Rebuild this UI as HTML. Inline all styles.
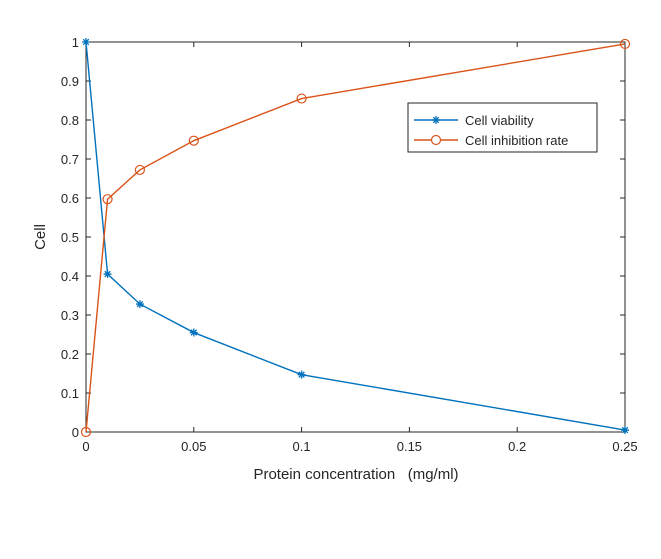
<!DOCTYPE html>
<html><head><meta charset="utf-8"><style>
body{margin:0;background:#fff}
svg text{font-family:"Liberation Sans",Arial,sans-serif;fill:#262626}
</style></head><body>
<svg width="661" height="554">
<g id="g"></g>
</svg>
<script>
const xValues=[0,0.01,0.025,0.05,0.1,0.25];
const viability=[1,0.405,0.328,0.255,0.147,0.005];
const inhibition=[0,0.597,0.672,0.747,0.855,0.995];
const xTicks=[0,0.05,0.1,0.15,0.2,0.25];
const xTickLabels=["0","0.05","0.1","0.15","0.2","0.25"];
const yTicks=[0,0.1,0.2,0.3,0.4,0.5,0.6,0.7,0.8,0.9,1];
const yTickLabels=["0","0.1","0.2","0.3","0.4","0.5","0.6","0.7","0.8","0.9","1"];
const L=86,R=625,T=42,B=432;
const X=v=>L+(v-0)/(0.25)*(R-L);
const Y=v=>B-v*(B-T);
const NS="http://www.w3.org/2000/svg";
const g=document.getElementById('g');
function mk(t,a,p){const e=document.createElementNS(NS,t);for(const k in a)e.setAttribute(k,a[k]);(p||g).appendChild(e);return e;}
const bg=mk('rect',{x:L,y:T,width:R-L,height:B-T,fill:'#fff',stroke:'#262626','stroke-width':1});


xTicks.forEach((v,i)=>{const x=X(v);
mk('line',{x1:x,y1:B,x2:x,y2:B-5,stroke:'#262626'});mk('line',{x1:x,y1:T,x2:x,y2:T+5,stroke:'#262626'});
const t=mk('text',{x:x,y:B+19,'text-anchor':'middle','font-size':13});t.textContent=xTickLabels[i];

});
yTicks.forEach((v,i)=>{const y=Y(v);
mk('line',{x1:L,y1:y,x2:L+5,y2:y,stroke:'#262626'});mk('line',{x1:R,y1:y,x2:R-5,y2:y,stroke:'#262626'});
const t=mk('text',{x:L-7,y:y+5,'text-anchor':'end','font-size':13});t.textContent=yTickLabels[i];

});
const xt=mk('text',{x:356,y:479,'text-anchor':'middle','font-size':15});xt.textContent='Protein concentration\u00a0\u00a0\u00a0(mg/ml)';


const yt=mk('text',{x:45,y:237,'text-anchor':'middle','font-size':15,transform:'rotate(-90 45 237)'});yt.textContent='Cell';


function star(x,y,c,p){const s=4;
mk('path',{d:`M${x-s} ${y}H${x+s}M${x} ${y-s}V${y+s}M${x-s*.7} ${y-s*.7}L${x+s*.7} ${y+s*.7}M${x-s*.7} ${y+s*.7}L${x+s*.7} ${y-s*.7}`,stroke:c,'stroke-width':1.3,fill:'none'},p);}
function series(vals,c,marker,name){
const grp=mk('g',{});


mk('polyline',{points:xValues.map((v,i)=>X(v)+','+Y(vals[i])).join(' '),fill:'none',stroke:c,'stroke-width':1.4},grp);
xValues.forEach((v,i)=>{if(marker==='star')star(X(v),Y(vals[i]),c,grp);else mk('circle',{cx:X(v),cy:Y(vals[i]),r:4.5,fill:'none',stroke:c,'stroke-width':1.2},grp);});}
series(viability,'#0072BD','star','cell-viability-series');
series(inhibition,'#D95319','circle','cell-inhibition-series');
const lg=mk('g',{});


mk('rect',{x:408,y:103,width:189,height:49,fill:'#fff',stroke:'#262626'},lg);
mk('line',{x1:414,y1:120,x2:458,y2:120,stroke:'#0072BD','stroke-width':1.4},lg);star(436,120,'#0072BD',lg);
mk('line',{x1:414,y1:140,x2:458,y2:140,stroke:'#D95319','stroke-width':1.4},lg);mk('circle',{cx:436,cy:140,r:4.5,fill:'#fff',stroke:'#D95319','stroke-width':1.2},lg);
const l1=mk('text',{x:465,y:125,'font-size':13},lg);l1.textContent='Cell viability';


const l2=mk('text',{x:465,y:145,'font-size':13},lg);l2.textContent='Cell inhibition rate';


</script>
</body></html>
